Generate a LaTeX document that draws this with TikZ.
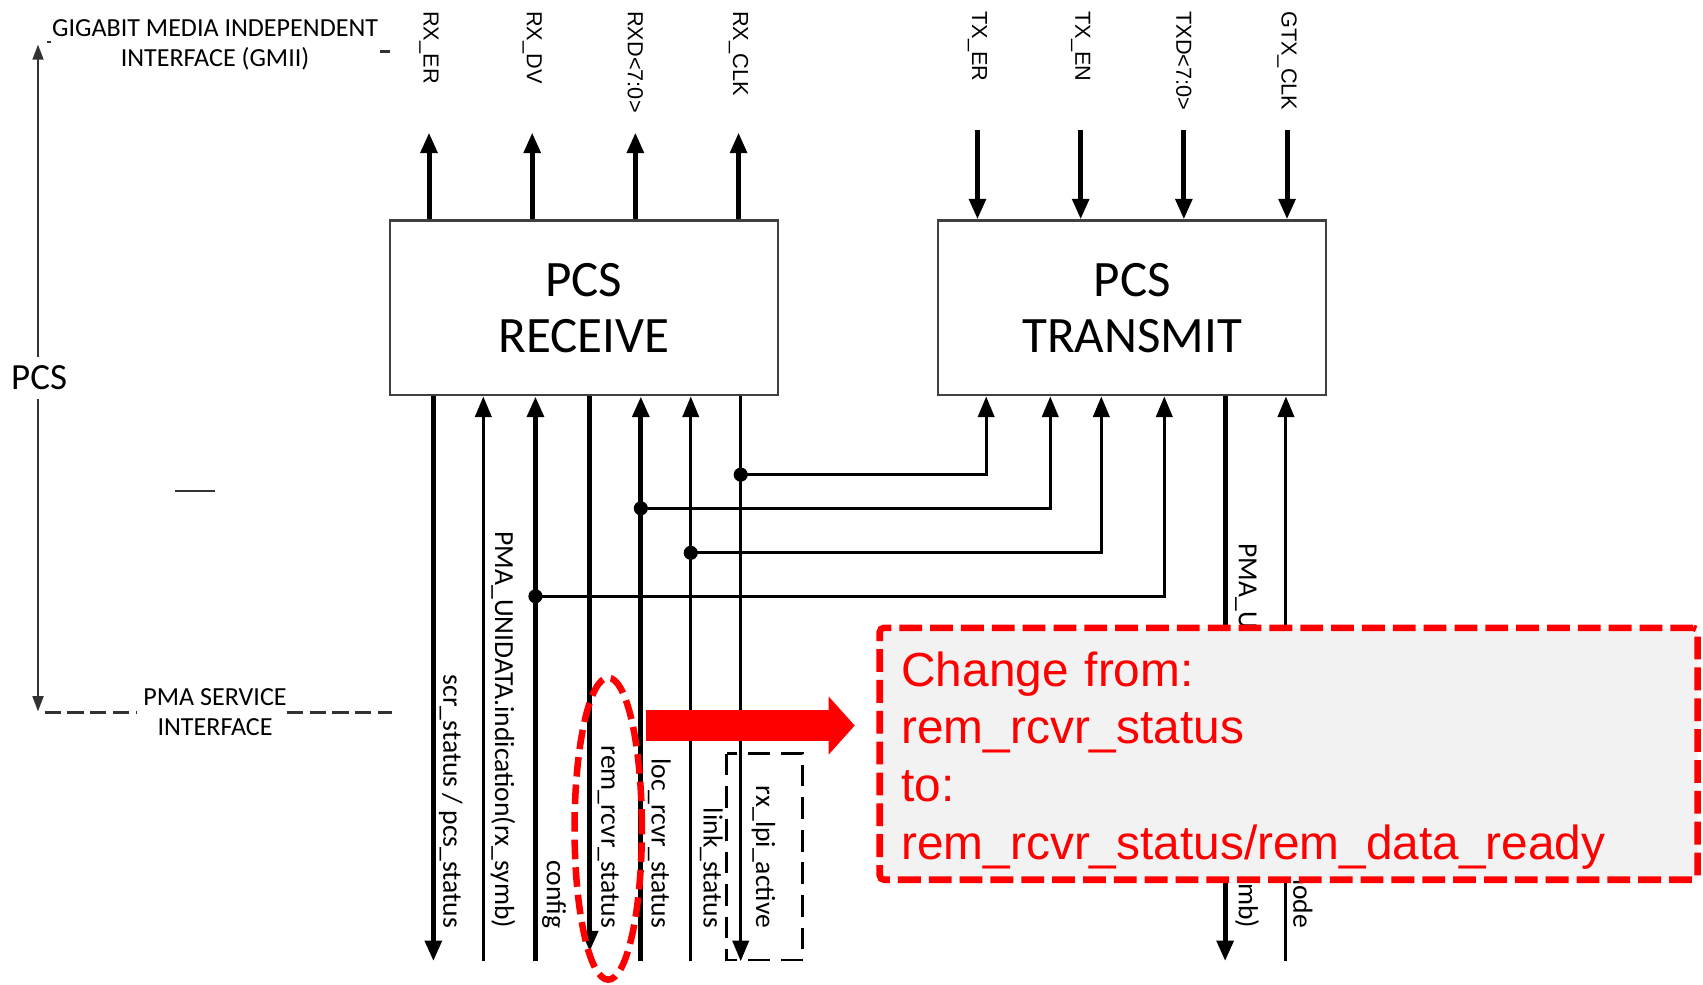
\documentclass[tikz,border=0pt]{standalone}
\usepackage{fontspec}
\setmainfont{Carlito}
\newfontfamily\arialfont{Liberation Sans}
\usetikzlibrary{arrows.meta,shapes.geometric}
\definecolor{notered}{RGB}{255,0,0}
\definecolor{notefill}{RGB}{242,242,242}
\definecolor{boxline}{RGB}{64,64,64}
\definecolor{sideline}{RGB}{50,50,50}
\tikzset{
  blk/.style={draw=boxline,line width=1pt,minimum width=178.5pt,minimum height=80.5pt,
    align=center,inner sep=0pt,font=\fontsize{23.5}{26}\selectfont},
  toplab/.style={rotate=-90,anchor=west,inner sep=0pt,font=\arialfont\fontsize{10}{12}\selectfont},
  botlab/.style={rotate=-90,anchor=east,inner sep=0pt,font=\fontsize{12.7}{15}\selectfont},
  ifc/.style={align=center,inner sep=0pt,font=\fontsize{12}{13.8}\selectfont},
  thk/.style={line width=2.3pt},
  thn/.style={line width=1.4pt},
  sigtip/.style={-{Triangle[length=9.5pt,width=7.5pt]}},
  jdot/.style={circle,fill,inner sep=0pt,minimum size=6.5pt},
  sidearrow/.style={draw=sideline,line width=1pt,-{Triangle[length=7pt,width=5pt]}},
  sideline/.style={draw=sideline,line width=1pt},
  ifcdash/.style={draw=sideline,line width=1.2pt,dash pattern=on 7.5pt off 3pt},
  ring/.style={ellipse,draw=notered,line width=3pt,dash pattern=on 9pt off 3.7pt,
    minimum width=31pt,minimum height=139pt,inner sep=0pt},
  bigarrow/.style={draw=notered,line width=14pt,-{Triangle[length=12pt,width=26pt]}},
  note/.style={draw=notered,fill=notefill,line width=3pt,dash pattern=on 10.5pt off 3.7pt,
    rounded corners=2pt,text width=356.5pt,inner xsep=10pt,minimum height=116pt,
    align=left,text=notered,font=\arialfont\fontsize{22}{26.5}\selectfont}
}
\begin{document}
\begin{tikzpicture}[x=0.5pt,y=-0.5pt]
  \useasboundingbox (0,0) rectangle (1568,906);
  \node[blk] (rx) at (537.5,283.5) {PCS\\RECEIVE};
  \node[blk] (tx) at (1042.5,283.5) {PCS\\TRANSMIT};

  \coordinate (gtip) at (0,122);
  \coordinate (gtail) at (0,120);
  \foreach \x/\lab in {395/RX\_ER,490/RX\_DV,585/RXD<7:0>,680/RX\_CLK}{
    \node[toplab] (g\x) at (\x,10) {\lab};
    \draw[thk,sigtip] (rx.north -| g\x) -- (g\x |- gtip);
  }
  \foreach \x/\lab in {900/TX\_ER,995/TX\_EN,1090/TXD<7:0>,1185/GTX\_CLK}{
    \node[toplab] (g\x) at (\x,10) {\lab};
    \draw[thk,sigtip] (g\x |- gtail) -- (tx.north -| g\x);
  }

  \coordinate (scr) at (399,885);
  \coordinate (unind) at (445,885);
  \coordinate (cfg) at (493,885);
  \coordinate (rem) at (543,876);
  \coordinate (loc) at (590,885);
  \coordinate (lnk) at (636,885);
  \coordinate (lpi) at (682,885);
  \coordinate (txsym) at (1128,885);
  \coordinate (txmode) at (1184,885);
  \draw[thk,sigtip] (rx.south -| scr) -- (scr);
  \draw[thn,sigtip] (unind) -- (rx.south -| unind);
  \draw[thk,sigtip] (cfg) -- (rx.south -| cfg);
  \draw[thk,sigtip] (rx.south -| rem) -- (rem);
  \draw[thk,sigtip] (loc) -- (rx.south -| loc);
  \draw[thn,sigtip] (lnk) -- (rx.south -| lnk);
  \draw[thn,sigtip] (rx.south -| lpi) -- (lpi);
  \draw[thk,sigtip] (tx.south -| txsym) -- (txsym);
  \draw[thn,sigtip] (txmode) -- (tx.south -| txmode);

  \coordinate (j1) at (682,437);
  \coordinate (j2) at (590,468);
  \coordinate (j3) at (636,509);
  \coordinate (j4) at (493,549);
  \coordinate (k1) at (908,437);
  \coordinate (k2) at (967,468);
  \coordinate (k3) at (1014,509);
  \coordinate (k4) at (1072,549);
  \foreach \n in {1,2,3,4}{
    \draw[thn,sigtip] (j\n) -- (k\n) -- (tx.south -| k\n);
    \node[jdot] (d\n) at (j\n) {};
  }

  \node[botlab] (lscr) at (415,855) {scr\_status / pcs\_status};
  \node[botlab] (lunind) at (463,855) {PMA\_UNIDATA.indication(rx\_symb)};
  \node[botlab] (lcfg) at (510,855) {config};
  \node[botlab] (lrem) at (560,855) {rem\_rcvr\_status};
  \node[botlab] (lloc) at (607,855) {loc\_rcvr\_status};
  \node[botlab] (llnk) at (655,855) {link\_status};
  \node[botlab] (llpi) at (703,855) {rx\_lpi\_active};
  \node[botlab] (ltxsym) at (1148,855) {PMA\_UNITDATA.request(tx\_symb)};
  \node[botlab] (ltxmode) at (1198,855) {tx\_mode};
  \draw[line width=1.2pt,dash pattern=on 10pt off 5pt] (669,694) rectangle (739,884);

  \node[font=\fontsize{17}{20}\selectfont,inner xsep=1pt,inner ysep=4pt] (pcs) at (36,348) {PCS};
  \coordinate (pcstop) at (35,41);
  \coordinate (pcsbot) at (35,655);
  \draw[sidearrow] (pcs.north -| pcstop) -- (pcstop);
  \draw[sidearrow] (pcs.south -| pcsbot) -- (pcsbot);
  \draw[sideline] (161,452) -- (198,452);
  \node[ifc] (gmii) at (198,41) {GIGABIT MEDIA INDEPENDENT\\INTERFACE (GMII)};
  \draw[sideline] (43,38.5) -- (47,38.5);
  \draw[sideline,line width=1.5pt] (350,47.5) -- (359,47.5);
  \node[ifc] (pma) at (198,656) {PMA SERVICE\\INTERFACE};
  \draw[ifcdash] (41,656) -- (126,656);
  \draw[ifcdash] (264,656) -- (361,656);

  \node[ring] (ring) at (560,763) {};
  \coordinate (arrs) at (595,668);
  \coordinate (arre) at (787,668);
  \draw[bigarrow] (arrs) -- (arre);
  \node[note] (note) at (1186.5,694) {\rule{0pt}{22pt}Change from:\\rem\_rcvr\_status\\to:\\rem\_rcvr\_status/rem\_data\_ready};
\end{tikzpicture}
\end{document}
